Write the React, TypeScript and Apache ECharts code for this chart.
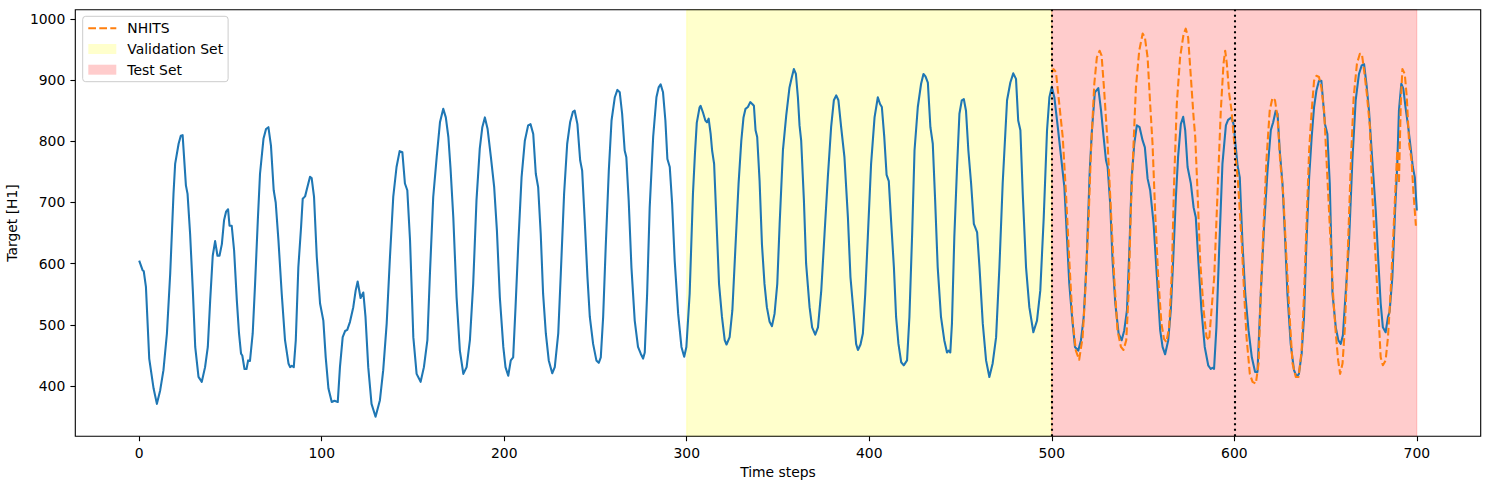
import React, { useEffect, useRef } from "react";
import * as echarts from "echarts";

const xTicks = [0, 100, 200, 300, 400, 500, 600, 700];
const yTicks = [400, 500, 600, 700, 800, 900, 1000];
const validationRange = [300, 500];
const testRange = [500, 700];
const splitMarkers = [500, 600];

const trainTarget: [number, number][] = [
  [0, 605], [1.9, 589], [2.5, 588], [3.7, 562], [5.5, 445], [7.9, 396], [9.7, 371], [11.5, 393], [13.3, 426], [15.2, 486],
  [17, 584], [18.8, 714], [19.7, 763], [21.6, 796], [22.8, 809], [23.8, 810], [25.6, 728], [26.5, 714], [27.9, 649], [29.4, 556],
  [30.7, 464], [32.5, 415], [34.3, 407], [36.1, 431], [37.6, 464], [38.9, 540], [40.3, 613], [41.6, 637], [42.9, 613], [44, 613],
  [45.3, 632], [46.5, 671], [47.6, 685], [48.7, 689], [49.5, 662], [50.7, 662], [52, 622], [53.5, 540], [54.7, 486], [55.8, 453],
  [56.5, 450], [57.7, 428], [58.8, 428], [59.7, 442], [60.7, 441], [62.2, 486], [63.5, 567], [65, 671], [66.2, 747], [68.1, 804],
  [69.5, 820], [70.8, 823], [72.2, 793], [73.7, 720], [74.8, 700], [76.3, 638], [78.1, 551], [79.9, 475], [81.8, 437], [82.7, 431],
  [83.6, 433], [84.7, 431], [85.8, 475], [87.2, 594], [88.7, 660], [89.6, 706], [90.9, 710], [91.9, 722], [93.6, 742], [94.5, 740],
  [95.8, 709], [97.3, 611], [99.1, 535], [100.9, 507], [102.2, 447], [103.7, 396], [105.5, 374], [107, 376], [108.8, 374], [110, 431],
  [111.5, 480], [112.8, 490], [114, 492], [115.5, 505], [117.3, 529], [118.6, 556], [119.7, 571], [121.3, 544], [122.8, 553], [124, 513],
  [125.5, 431], [127.3, 371], [129.5, 350], [131.9, 377], [133.7, 426], [135.6, 502], [137.4, 611], [139.2, 709], [141, 758], [142.7, 784],
  [144.2, 782], [145.6, 731], [146.9, 720], [148.4, 638], [150.2, 480], [152, 420], [154.2, 407], [156, 431], [157.9, 475], [159.3, 584],
  [161.1, 709], [163, 774], [164.8, 831], [166.6, 853], [168, 839], [169.4, 807], [170.6, 755], [172.1, 676], [173.9, 545], [175.7, 458],
  [177.6, 420], [179.4, 431], [181.2, 475], [183, 567], [184.8, 703], [186.6, 788], [188, 823], [189.4, 839], [190.9, 820], [192.7, 774],
  [194.5, 725], [196, 654], [197.6, 545], [199.5, 464], [200.7, 431], [202.2, 417], [203.6, 442], [204.9, 447], [206.2, 529], [207.7, 632],
  [209.5, 741], [211.3, 801], [213.1, 826], [214.4, 828], [215.9, 812], [217.3, 747], [218.6, 725], [220, 649], [221.3, 551], [222.8, 486],
  [224.4, 442], [226.3, 421], [227.7, 431], [229.6, 486], [231, 584], [232.8, 714], [234.5, 796], [236.1, 831], [237.6, 848], [238.6, 850],
  [240.1, 828], [241.6, 769], [242.7, 752], [244.1, 671], [245.6, 578], [246.9, 513], [248.7, 469], [250.5, 442], [251.8, 438], [252.9, 447],
  [254.2, 513], [255.6, 627], [257.3, 752], [258.8, 834], [260.6, 872], [262, 884], [263.3, 880], [264.6, 845], [266, 785], [266.9, 774],
  [268.2, 703], [269.7, 594], [271.5, 507], [273.3, 464], [274.8, 453], [276.1, 445], [277, 455], [278.3, 551], [279.7, 692], [281.6, 807],
  [283.4, 872], [284.6, 888], [285.7, 893], [287, 880], [288.3, 834], [289.4, 771], [290.7, 758], [292, 698], [293.4, 605], [295.3, 518],
  [297.1, 464], [298.6, 448], [299.8, 464],
];

const validationTarget: [number, number][] = [
  [301.6, 551], [303.4, 714], [304.5, 780], [305.5, 830], [307, 855], [307.6, 858], [308.9, 847], [310.2, 834], [311.1, 831], [312, 837],
  [313.1, 812], [313.9, 785], [315, 763], [316.2, 676], [317.7, 567], [319.3, 513], [320.8, 475], [321.8, 468], [323.5, 480], [325, 524],
  [326.6, 622], [328.4, 731], [329.9, 801], [331.1, 839], [332.2, 853], [333.5, 856], [334.8, 864], [335.9, 861], [336.8, 858], [337.7, 818],
  [338.6, 807], [339.9, 736], [341.2, 632], [342.6, 567], [343.9, 529], [345.4, 505], [346.7, 498], [348.1, 518], [349.6, 567], [350.9, 665],
  [352.7, 785], [354.5, 842], [356.3, 888], [357.6, 905], [358.7, 918], [359.8, 910], [360.9, 872], [361.8, 826], [362.7, 801], [364.2, 703],
  [365.4, 600], [367.3, 529], [368.7, 496], [370.4, 484], [371.9, 496], [373.7, 556], [375.5, 649], [377.3, 741], [379.1, 823], [380.6, 867],
  [381.9, 875], [383.1, 867], [384.6, 823], [386.4, 774], [388.3, 676], [389.7, 578], [391.6, 513], [392.8, 469], [393.8, 459], [395.2, 468],
  [396.5, 486], [397.8, 551], [399.2, 643], [401, 763], [402.9, 839], [404.7, 872], [405.9, 861], [406.9, 856], [408.2, 808], [409.5, 745],
  [410.7, 735], [412, 668], [413.5, 594], [414.7, 513], [416, 469], [417.5, 439], [418.9, 434], [420.7, 442], [422, 513], [423.5, 649],
  [424.8, 785], [426.6, 856], [428.4, 894], [429.7, 910], [430.8, 906], [432.1, 896], [433.5, 823], [434.8, 796], [436.1, 703], [437.5, 594],
  [439.3, 513], [441.1, 475], [442.6, 455], [443.5, 458], [444.4, 455], [445.3, 502], [446.6, 643], [448.1, 758], [449.4, 845], [450.7, 867],
  [451.8, 869], [453, 850], [454.3, 785], [455.8, 731], [457.3, 665], [459.1, 651], [460.4, 594], [462.2, 502], [464, 442], [465.8, 415],
  [467.6, 437], [469.5, 480], [471.3, 594], [473.1, 731], [475.5, 867], [477.3, 896], [478.9, 911], [480.4, 902], [481.6, 834], [482.8, 818],
  [484.1, 714], [485.9, 594], [487.7, 529], [489.9, 488], [491.9, 507], [493.7, 556], [495.6, 676], [497.4, 818], [498.7, 872], [500, 889],
];

const testTarget: [number, number][] = [
  [501.4, 872], [503.3, 823], [505.1, 774], [506.9, 725], [508.3, 643], [509.6, 567], [511.1, 513], [512.7, 464], [514.5, 458], [516, 475],
  [517.5, 513], [519.1, 605], [520.8, 752], [522, 818], [523.6, 880], [525.5, 887], [527, 850], [528.4, 807], [529.7, 769], [530.6, 758],
  [532, 698], [533.3, 605], [534.8, 535], [536.6, 486], [538.3, 475], [539.7, 491], [541.2, 524], [542.5, 622], [543.8, 741], [545.2, 796],
  [546.6, 826], [548.1, 823], [549.8, 801], [551, 790], [552.5, 739], [553.9, 720], [555.8, 665], [557.6, 578], [559.4, 491], [560.7, 464],
  [562.1, 452], [563.8, 475], [565.2, 524], [566.5, 605], [568, 709], [569.2, 774], [570.7, 828], [572, 840], [573.1, 818], [574.4, 758],
  [576.2, 731], [577.7, 692], [578.9, 676], [580.4, 600], [582, 524], [583.8, 464], [585.7, 434], [587.1, 428], [588, 430], [588.9, 428],
  [590.2, 496], [591.7, 622], [593.5, 763], [595.4, 826], [596.6, 835], [598.5, 839], [599.6, 828], [601.8, 760], [603, 741], [604.5, 632],
  [606, 551], [607.8, 491], [609.6, 447], [611.4, 423], [612.7, 423], [614.5, 551], [616.3, 660], [618.2, 752], [620, 818], [621.3, 831],
  [622.7, 850], [623.7, 845], [624.9, 785], [626.4, 731], [627.8, 643], [629.1, 551], [630.9, 469], [632.7, 426], [634.2, 415], [635.4, 420],
  [636.9, 453], [638.2, 513], [639.5, 632], [641, 741], [642.4, 807], [643.7, 856], [645, 883], [646.4, 899], [647.7, 899], [648.6, 867],
  [649.7, 828], [651, 812], [652.3, 731], [653.8, 551], [655.6, 496], [657, 475], [658.3, 469], [659.5, 483], [661, 551], [662.8, 632],
  [664.7, 769], [666.5, 867], [668.3, 910], [669.8, 924], [671.1, 926], [672.4, 894], [673.8, 850], [675.6, 769], [677.5, 687], [678.9, 605],
  [680.2, 535], [681.4, 496], [682.9, 488], [684.2, 513], [685.1, 522], [686.6, 578], [688.1, 687], [689.3, 763], [690.2, 850], [691.5, 894],
  [692.6, 886], [693.8, 856], [695.3, 823], [696.6, 790], [697.8, 758], [698.9, 741], [700, 687],
];

const nhitsForecast: [number, number][] = [
  [500, 912], [501, 918], [502.3, 913], [504.1, 861], [506, 807], [507.8, 714], [509.6, 605], [511.4, 507], [513.2, 458], [515, 443],
  [516.9, 480], [518.3, 551], [520, 660], [521.5, 785], [523.3, 894], [524.7, 937], [526.2, 948], [527.3, 940], [528.7, 883], [530.6, 796],
  [532.4, 687], [534.2, 578], [536, 491], [537.9, 464], [539.3, 459], [540.8, 475], [542.1, 551], [543.3, 687], [544.8, 796], [546.1, 888],
  [547.9, 948], [549.8, 976], [551, 970], [552.5, 937], [553.9, 861], [555.2, 796], [556.6, 687], [558.3, 578], [560.1, 502], [561.5, 477],
  [562.8, 472], [564.3, 496], [565.8, 589], [567, 731], [568.5, 861], [570.3, 937], [572.2, 975], [573.4, 984], [574.7, 970], [576.2, 905],
  [577.7, 839], [578.6, 807], [579.9, 714], [581.3, 605], [583.2, 524], [584.8, 480], [586.2, 475], [587.5, 524], [589, 578], [590.8, 714],
  [592.6, 850], [594.1, 927], [595, 948], [595.9, 927], [597.2, 878], [598.5, 850], [600, 796], [601.8, 741], [602.3, 720], [604.1, 632],
  [605.4, 551], [606.7, 480], [608.5, 420], [610, 407], [611.8, 404], [613.3, 437], [614.5, 551], [616, 660], [617.6, 769], [619.4, 850],
  [620.9, 871], [622.3, 867], [623.7, 839], [625.1, 769], [626.8, 714], [628.2, 632], [630.1, 524], [631.9, 437], [633.7, 415], [635.2, 415],
  [636.9, 458], [638.2, 551], [639.5, 660], [641, 785], [642.4, 850], [643.7, 899], [645, 907], [646.4, 905], [647.7, 888], [649.2, 850],
  [651, 741], [652.8, 632], [654.1, 551], [655.6, 486], [656.9, 442], [658, 420], [659.3, 437], [660.6, 496], [662, 605], [663.9, 769],
  [665.4, 872], [667.2, 927], [668.8, 943], [669.9, 943], [671.1, 916], [672.6, 878], [674.3, 823], [675.6, 714], [677.5, 605], [678.9, 524],
  [680.2, 447], [681.4, 434], [682.9, 442], [684.2, 480], [685.6, 551], [686.9, 632], [688.4, 731], [689.3, 785], [690.2, 731], [691.2, 861],
  [692.1, 918], [693.4, 910], [694.5, 872], [695.8, 796], [697.1, 769], [698.2, 714], [699.5, 662],
];

const FONT = "DejaVu Sans";
const FS = 13.9;

export default function App() {
  const ref = useRef<HTMLDivElement>(null);

  useEffect(() => {
    document.body.style.margin = "0";
    const chart = echarts.init(ref.current!, null, { renderer: "svg" });
    const target = [...trainTarget, ...validationTarget, ...testTarget];
    chart.setOption({
      animation: false,
      backgroundColor: "#ffffff",
      grid: {
        left: 75.3,
        right: 8.3,
        top: 9.7,
        bottom: 52.7,
        containLabel: false,
        outerBoundsMode: "none",
        show: true,
        borderColor: "#000",
        borderWidth: 1.1,
        backgroundColor: "transparent",
        z: 5,
      },
      legend: {
        orient: "vertical",
        left: 82.7,
        top: 16.3,
        itemWidth: 28,
        itemHeight: 10,
        itemGap: 6.7,
        padding: [5, 5, 5, 4.6],
        backgroundColor: "rgba(255,255,255,0.8)",
        borderColor: "#cccccc",
        borderWidth: 1,
        borderRadius: 3,
        textStyle: { fontFamily: FONT, fontSize: FS, color: "#000", padding: [0, 0, 0, 6] },
        data: [
          { name: "NHITS", itemStyle: { opacity: 0 } },
          { name: "Validation Set", icon: "rect", itemStyle: { color: "rgba(255,255,0,0.2)" } },
          { name: "Test Set", icon: "rect", itemStyle: { color: "rgba(255,0,0,0.2)" } },
        ],
      },
      xAxis: {
        type: "value",
        min: -35,
        max: 735,
        name: "Time steps",
        nameLocation: "middle",
        nameGap: 28.5,
        nameTextStyle: { fontFamily: FONT, fontSize: FS, color: "#000" },
        axisLine: { show: false, onZero: false },
        axisTick: { show: true, length: 4.9, lineStyle: { color: "#000", width: 1.1 }, customValues: xTicks },
        axisLabel: {
          customValues: xTicks,
          margin: 9.5,
          fontFamily: FONT,
          fontSize: FS,
          color: "#000",
          formatter: (v: number) => String(v),
        },
        splitLine: { show: false },
      },
      yAxis: {
        type: "value",
        min: 318,
        max: 1015,
        name: "Target [H1]",
        nameLocation: "middle",
        nameGap: 49,
        nameTextStyle: { fontFamily: FONT, fontSize: FS, color: "#000" },
        axisLine: { show: false, onZero: false },
        axisTick: { show: true, length: 4.9, lineStyle: { color: "#000", width: 1.1 }, customValues: yTicks },
        axisLabel: {
          customValues: yTicks,
          margin: 10,
          fontFamily: FONT,
          fontSize: FS,
          color: "#000",
          formatter: (v: number) => String(v),
        },
        splitLine: { show: false },
      },
      series: [
        {
          name: "Validation Set",
          type: "line",
          data: [],
          z: 1,
          itemStyle: { color: "rgba(255,255,0,0.2)" },
          markArea: {
            silent: true,
            itemStyle: { color: "rgba(255,255,0,0.2)", borderColor: "rgba(255,255,0,0.2)", borderWidth: 1 },
            data: [[{ xAxis: validationRange[0] }, { xAxis: validationRange[1] }]],
          },
        },
        {
          name: "Test Set",
          type: "line",
          data: [],
          z: 1,
          itemStyle: { color: "rgba(255,0,0,0.2)" },
          markArea: {
            silent: true,
            itemStyle: { color: "rgba(255,0,0,0.2)", borderColor: "rgba(255,0,0,0.2)", borderWidth: 1 },
            data: [[{ xAxis: testRange[0] }, { xAxis: testRange[1] }]],
          },
        },
        {
          name: "Target",
          type: "line",
          data: target,
          symbol: "none",
          z: 3,
          lineStyle: { color: "#1f77b4", width: 2.08, cap: "butt", join: "round" },
          itemStyle: { color: "#1f77b4" },
        },
        {
          name: "NHITS",
          type: "line",
          data: nhitsForecast,
          symbol: "none",
          z: 4,
          lineStyle: { color: "#ff7f0e", width: 2.08, type: [7.7, 3.3], cap: "butt", join: "round" },
          itemStyle: { color: "#ff7f0e" },
        },
        {
          name: "Splits",
          type: "line",
          data: [],
          z: 6,
          markLine: {
            silent: true,
            symbol: ["none", "none"],
            label: { show: false },
            lineStyle: { color: "#000", width: 2.08, type: [2.08, 3.44], cap: "butt" },
            data: splitMarkers.map((v) => ({ xAxis: v })),
          },
        },
      ],
    });
    return () => chart.dispose();
  }, []);

  return <div ref={ref} style={{ width: 1489, height: 489 }} />;
}
